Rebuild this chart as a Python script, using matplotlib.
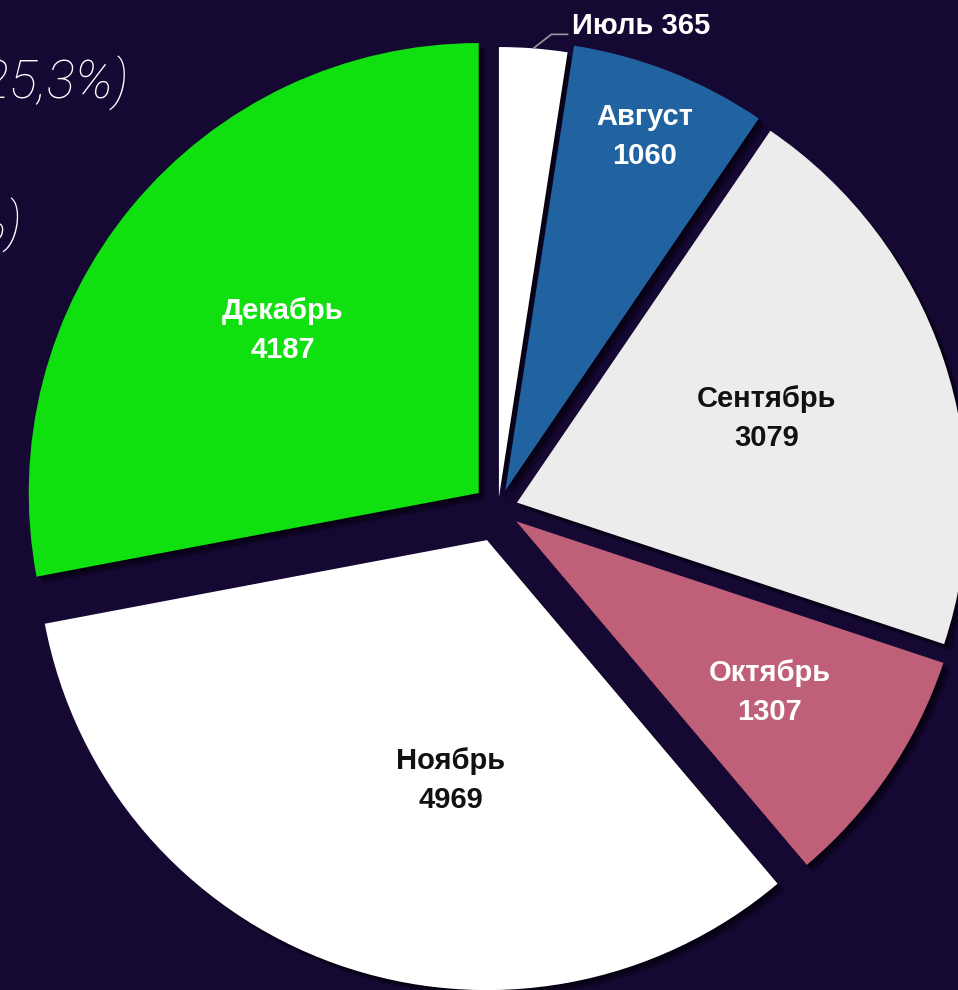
import numpy as np
import matplotlib.pyplot as plt
import matplotlib.patheffects as pe

# data for the pie
months = ['Июль', 'Август', 'Сентябрь', 'Октябрь', 'Ноябрь', 'Декабрь']
counts = [365, 1060, 3079, 1307, 4969, 4187]
colors = ['#ffffff', '#2162a0', '#ececec', '#c06078', '#ffffff', '#10e010']
text_colors = ['#ffffff', '#ffffff', '#111111', '#ffffff', '#111111', '#ffffff']

# layout stuff (pixel units)
explode = [12, 20, 20, 22, 33, 25]
label_dist = [0, 0.845, 0.585, 0.68, 0.54, 0.565]
label_shift = [0, 0, 0, 0, 11, 0]   # degrees, to nudge labels
bg = '#150833'
R = 450
cx, cy = 498, 481

fig = plt.figure(figsize=(9.58, 9.90), dpi=100, facecolor=bg)
ax = fig.add_axes([0, 0, 1, 1])
ax.set_facecolor(bg)

shadow = [pe.SimplePatchShadow(offset=(o, -o), shadow_rgbFace='black', alpha=0.18)
          for o in (1, 2, 3, 4, 5)] + [pe.Normal()]

wedges, _ = ax.pie(counts, colors=colors, startangle=90, counterclock=False,
                   radius=R, center=(cx, cy), explode=explode,
                   wedgeprops=dict(linewidth=0, path_effects=shadow))

font = 'Liberation Sans'
for i, w in enumerate(wedges):
    mid = np.deg2rad((w.theta1 + w.theta2) / 2)
    x0, y0 = w.center
    if i == 0:
        # small slice -> label outside with a leader line
        sx, sy = x0 + R * np.cos(mid), y0 + R * np.sin(mid)
        ex, ey = sx + 18, sy + 14
        tx = ex + 17
        ax.plot([sx, ex, tx], [sy, ey, ey], color='#9a9a9a', lw=1.2, solid_capstyle='butt')
        ax.text(tx + 4, ey, f'{months[i]} {counts[i]}', color=text_colors[i],
                fontsize=21, fontweight='bold', family=font, ha='left', va='baseline')
        continue
    a = mid + np.deg2rad(label_shift[i])
    tx = x0 + label_dist[i] * R * np.cos(a)
    ty = y0 + label_dist[i] * R * np.sin(a)
    ax.text(tx, ty, f'{months[i]}\n{counts[i]}', color=text_colors[i], fontsize=21,
            fontweight='bold', family=font, ha='center', va='center', linespacing=1.5)

# text cut off at the left edge of the picture
ax.text(128, 907, '(25,3%)', color='#ffffff', fontsize=38, family='Roboto',
        fontstyle='italic', fontweight='light', ha='right', va='center')
ax.text(22, 765, '%)', color='#ffffff', fontsize=38, family='Roboto',
        fontstyle='italic', fontweight='light', ha='right', va='center')

ax.set_xlim(0, 958)
ax.set_ylim(0, 990)
ax.axis('off')

fig.savefig('out.png', dpi=100, facecolor=bg)
